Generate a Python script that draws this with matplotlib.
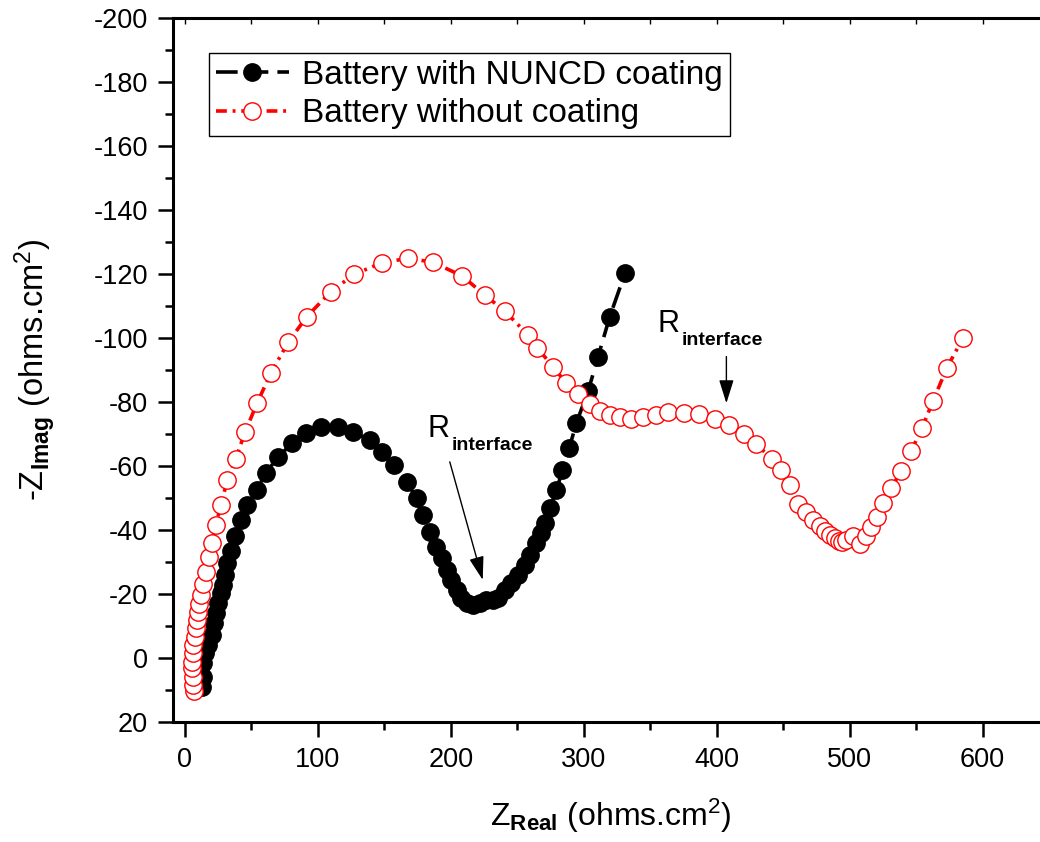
import matplotlib
matplotlib.use("Agg")
import matplotlib.pyplot as plt
from matplotlib.ticker import MultipleLocator

plt.rcParams['font.family'] = ['Liberation Sans', 'DejaVu Sans']
plt.rcParams['mathtext.fontset'] = 'custom'
plt.rcParams['mathtext.rm'] = 'Liberation Sans'
plt.rcParams['mathtext.bf'] = 'Liberation Sans:bold'
plt.rcParams['mathtext.it'] = 'Liberation Sans:italic'
plt.rcParams['axes.unicode_minus'] = False

# ---- data (Z_real, -Z_imag as plotted) ----
black_x = [12.5, 13.3, 13.8, 15.0, 17.5, 20.0, 21.8, 23.3, 25.0, 26.8, 28.3, 30.0, 31.3, 34.4,
           37.6, 41.9, 46.9, 53.9, 60.9, 70.2, 80.7, 91.0, 102.7, 115.3, 126.6, 139.1, 148.4,
           157.4, 166.7, 174.2, 178.7, 184.2, 189.2, 193.0, 196.8, 200.5, 204.3, 208.0, 211.8,
           216.8, 221.8, 226.8, 231.8, 235.6, 240.6, 245.6, 250.6, 255.6, 259.4, 264.4, 268.2,
           270.7, 274.4, 279.5, 284.0, 289.0, 294.5, 303.3, 310.8, 319.6, 331.0]
black_y = [9.0, 5.8, 1.7, -1.5, -4.1, -7.2, -10.8, -14.0, -17.1, -20.2, -22.8, -25.9, -29.6, -33.5,
           -38.1, -43.1, -47.8, -52.5, -57.9, -62.9, -67.1, -70.2, -72.1, -72.3, -70.6, -68.1, -64.5,
           -60.3, -55.1, -49.9, -44.7, -39.5, -34.8, -31.2, -27.5, -24.4, -21.3, -18.7, -17.1,
           -16.6, -17.1, -18.1, -18.1, -18.7, -21.3, -23.3, -25.9, -29.0, -32.2, -35.8, -39.0,
           -42.1, -46.8, -52.5, -58.7, -65.5, -73.5, -83.4, -94.2, -106.7, -120.2]

red_x = [6.8, 6.3, 5.8, 5.5, 5.5, 5.8, 6.3, 7.3, 8.0, 8.8, 10.0, 10.8, 11.8, 13.3, 15.8, 18.3,
         20.0, 23.3, 27.0, 31.8, 38.2, 45.1, 54.4, 64.7, 77.7, 91.7, 109.8, 127.3, 148.1, 167.7,
         186.3, 208.5, 225.6, 240.6, 258.2, 265.2, 277.0, 286.5, 295.3, 304.5, 312.0, 319.5,
         327.6, 335.8, 344.6, 354.6, 363.4, 375.2, 386.8, 398.5, 409.3, 420.3, 429.8, 441.9,
         448.6, 454.9, 461.1, 466.9, 472.4, 477.4, 481.7, 485.5, 488.7, 491.7, 494.0, 497.5,
         502.5, 507.5, 512.0, 516.3, 520.5, 525.0, 531.3, 538.8, 546.3, 554.4, 562.7, 573.2, 585.2]
red_y = [10.2, 8.4, 5.8, 3.2, 1.1, -1.5, -4.1, -6.7, -9.3, -11.9, -14.5, -16.9, -19.7, -23.1,
         -27.0, -31.5, -35.8, -41.6, -47.8, -55.5, -62.2, -70.5, -79.8, -89.1, -98.7, -106.7,
         -114.5, -119.9, -123.5, -124.9, -123.7, -119.4, -113.4, -108.4, -100.9, -96.8, -91.0,
         -86.0, -82.5, -79.4, -77.2, -75.9, -75.2, -74.7, -75.2, -75.9, -76.8, -76.7, -76.2,
         -74.7, -72.8, -69.9, -66.8, -62.1, -58.6, -54.1, -48.1, -45.7, -43.1, -41.3, -39.8,
         -38.4, -37.4, -36.7, -36.4, -36.9, -38.1, -35.6, -38.1, -41.0, -44.2, -48.3, -53.0,
         -58.5, -64.7, -71.8, -80.3, -90.7, -99.9]

series_labels = ["Battery with NUNCD coating", "Battery without coating"]
annot_main = "R"
annot_sub = "interface"

# ---- figure ----
fig = plt.figure(figsize=(10.4, 8.42), dpi=100)
ax = fig.add_axes([173/1040, 120/842, 876/1040, 704/842])

ax.plot(black_x, black_y, color='black', lw=2.6, linestyle=(0, (6, 2.5)),
        marker='o', markersize=12.5, markerfacecolor='black', markeredgecolor='black',
        label=series_labels[0], zorder=3)
ax.plot(red_x, red_y, color='red', lw=2.6, linestyle=(0, (3, 1.6, 0.8, 1.6)),
        marker='o', markersize=12.5, markerfacecolor='white', markeredgecolor='red',
        markeredgewidth=1.0, label=series_labels[1], zorder=4)

ax.set_xlim(-9, 650)
ax.set_ylim(20, -200)
ax.set_xticks(range(0, 601, 100))
ax.xaxis.set_minor_locator(MultipleLocator(50))
ax.yaxis.set_major_locator(MultipleLocator(20))
ax.yaxis.set_minor_locator(MultipleLocator(10))

for s in ax.spines.values():
    s.set_linewidth(2.2)

ax.tick_params(axis='both', which='major', direction='out', length=11, width=1.8,
               labelsize=19.5, pad=7)
ax.tick_params(axis='both', which='minor', direction='out', length=6, width=1.8)
ax.xaxis.set_tick_params(which='both', top=True, labeltop=False)
for t in ax.xaxis.get_major_ticks() + ax.xaxis.get_minor_ticks():
    t.tick2line.set_markersize(4)
    t.tick2line.set_marker(3)
    t.tick2line.set_markeredgewidth(1.0)

ax.set_xlabel(r'Z$_{\mathbf{Real}}$ (ohms.cm$^{2}$)', fontsize=23)
ax.set_ylabel(r'-Z$_{\mathbf{Imag}}$ (ohms.cm$^{2}$)', fontsize=23.5)
ax.xaxis.set_label_coords(0.5, -0.106)
ax.yaxis.set_label_coords((58 - 173) / 876, 0.5)

leg = ax.legend(loc='upper left', bbox_to_anchor=(0.041, 0.950), fontsize=24,
                frameon=True, fancybox=False, edgecolor='black', framealpha=1,
                handlelength=2.2, handletextpad=0.4, labelspacing=0.22,
                borderpad=0.2, borderaxespad=0)
leg.get_frame().set_linewidth(1.0)

for (tx, ty) in [(182.7, -69.1), (355.6, -101.9)]:
    ax.text(tx, ty, annot_main, fontsize=22, va='baseline', ha='left')
    ax.annotate(annot_sub, xy=(tx, ty), xytext=(17.3, -9.4), textcoords='offset points',
                fontsize=14, fontweight='bold', va='baseline', ha='left')

ax.annotate('', xy=(224, -24.4), xytext=(199.2, -61.3),
            arrowprops=dict(arrowstyle='-|>,head_length=0.8,head_width=0.25',
                            color='black', lw=1.0, mutation_scale=18, shrinkA=0, shrinkB=0))
ax.annotate('', xy=(407.3, -79.6), xytext=(407.3, -94.2),
            arrowprops=dict(arrowstyle='-|>,head_length=0.8,head_width=0.25',
                            color='black', lw=1.0, mutation_scale=18, shrinkA=0, shrinkB=0))

fig.savefig('out.png', dpi=100)
